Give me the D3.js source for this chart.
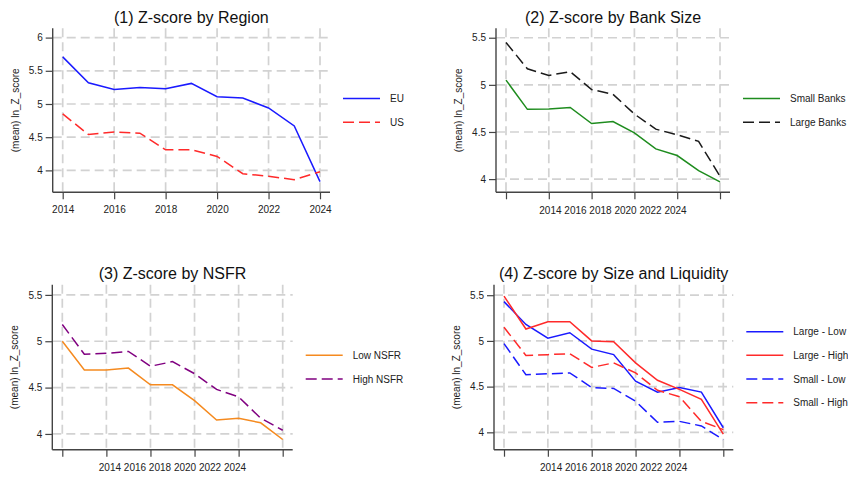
<!DOCTYPE html>
<html>
<head>
<meta charset="utf-8">
<script src="https://cdn.jsdelivr.net/npm/d3@7"></script>
<style>
  body{margin:0;background:#fff;}
  svg{display:block;font-family:"Liberation Sans",Arial,sans-serif;}
</style>
</head>
<body>
<svg id="chart" width="848" height="478"></svg>
<script>
// data
var years        = [2014,2015,2016,2017,2018,2019,2020,2021,2022,2023,2024];
var xticks       = [2014,2016,2018,2020,2022,2024];
var yticks_p1    = [4,4.5,5,5.5,6];
var yticks_rest  = [4,4.5,5,5.5];
var eu           = [5.71,5.32,5.22,5.25,5.23,5.31,5.11,5.09,4.94,4.67,3.83];
var us           = [4.85,4.54,4.58,4.56,4.31,4.31,4.21,3.95,3.91,3.86,3.98];
var small_banks  = [5.05,4.74,4.745,4.76,4.59,4.61,4.49,4.32,4.25,4.09,3.97];
var large_banks  = [5.45,5.17,5.10,5.14,4.95,4.90,4.69,4.53,4.47,4.40,4.03];
var low_nsfr     = [5.00,4.69,4.69,4.71,4.53,4.53,4.36,4.15,4.17,4.12,3.94];
var high_nsfr    = [5.18,4.86,4.87,4.89,4.73,4.78,4.65,4.48,4.40,4.17,4.04];
var large_low    = [5.43,5.18,5.03,5.09,4.91,4.85,4.56,4.44,4.49,4.44,4.05];
var large_high   = [5.49,5.13,5.21,5.21,5.00,4.99,4.76,4.57,4.47,4.36,3.98];
var small_low    = [4.97,4.63,4.64,4.65,4.49,4.48,4.34,4.11,4.12,4.07,3.92];
var small_high   = [5.15,4.84,4.85,4.86,4.71,4.76,4.65,4.46,4.39,4.12,4.03];

var dash = '11,5';
var panels = [
  {title:'(1) Z-score by Region', box:[52.7,330,28.3,192.3], ydom:[3.67,6.14], yticks:yticks_p1, xlab:'ticks',
   series:[{name:'EU',v:eu,c:'#1a1aff',d:null},{name:'US',v:us,c:'#ff2a2a',d:dash}]},
  {title:'(2) Z-score by Bank Size', box:[496,730,28.3,192.3], ydom:[3.86,5.60], yticks:yticks_rest, xlab:'string',
   series:[{name:'Small Banks',v:small_banks,c:'#1e8c1e',d:null},{name:'Large Banks',v:large_banks,c:'#1a1a1a',d:dash}]},
  {title:'(3) Z-score by NSFR', box:[52.3,292.7,284.7,449.7], ydom:[3.83,5.61], yticks:yticks_rest, xlab:'string',
   series:[{name:'Low NSFR',v:low_nsfr,c:'#f58a1f',d:null},{name:'High NSFR',v:high_nsfr,c:'#800080',d:dash}]},
  {title:'(4) Z-score by Size and Liquidity', box:[494,733.3,284.7,449.7], ydom:[3.81,5.615], yticks:yticks_rest, xlab:'string',
   series:[{name:'Large - Low',v:large_low,c:'#1a1aff',d:null},{name:'Large - High',v:large_high,c:'#ff2a2a',d:null},
           {name:'Small - Low',v:small_low,c:'#1a1aff',d:dash},{name:'Small - High',v:small_high,c:'#ff2a2a',d:dash}]}
];

function gen_panel(svg,p){
  var l=p.box[0], r=p.box[1], t=p.box[2], b=p.box[3];
  var x = d3.scaleLinear().domain([years[0],years[years.length-1]]).range([l+10,r-10]);
  var y = d3.scaleLinear().domain(p.ydom).range([b,t]);
  var g = svg.append('g');
  // grid
  g.append('g').selectAll('line').data(p.yticks).enter().append('line')
    .attr('x1',l).attr('x2',r).attr('y1',d=>y(d)).attr('y2',d=>y(d))
    .attr('stroke','#d2d2d2').attr('stroke-width',1.7).attr('stroke-dasharray','9,5');
  g.append('g').selectAll('line').data(xticks).enter().append('line')
    .attr('x1',d=>x(d)).attr('x2',d=>x(d)).attr('y1',t).attr('y2',b)
    .attr('stroke','#d2d2d2').attr('stroke-width',1.7).attr('stroke-dasharray','9,5');
  // axes
  var ya = g.append('g').attr('transform','translate('+l+',0)')
    .call(d3.axisLeft(y).tickValues(p.yticks).tickSize(7).tickPadding(3).tickFormat(d3.format('')));
  var xa = g.append('g').attr('transform','translate(0,'+b+')')
    .call(d3.axisBottom(x).tickValues(xticks).tickSize(7).tickPadding(7)
      .tickFormat(p.xlab=='ticks' ? d3.format('d') : ''));
  [ya,xa].forEach(function(a){
    a.select('.domain').remove();
    a.selectAll('line').attr('stroke','#444').attr('stroke-width',1.2);
    a.selectAll('text').attr('font-size',10).attr('fill','#222').attr('font-family',null);
  });
  g.append('line').attr('x1',l).attr('x2',l).attr('y1',t).attr('y2',b)
    .attr('stroke','#444').attr('stroke-width',1.4);
  g.append('line').attr('x1',l).attr('x2',r).attr('y1',b).attr('y2',b)
    .attr('stroke','#444').attr('stroke-width',1.4);
  if (p.xlab=='string'){
    g.append('text').attr('x',(l+r)/2).attr('y',b+21.5).attr('text-anchor','middle')
      .attr('font-size',10).attr('fill','#222').text(xticks.join(' '));
  }
  // titles
  g.append('text').attr('x',(l+r)/2).attr('y',t-5.5).attr('text-anchor','middle')
    .attr('font-size',16).attr('fill','#111').text(p.title);
  g.append('text').attr('transform','translate('+(l-34)+','+((t+b)/2)+') rotate(-90)')
    .attr('text-anchor','middle').attr('font-size',10).attr('fill','#222').text('(mean) ln_Z_score');
  // lines
  var line = d3.line().x((d,i)=>x(years[i])).y(d=>y(d));
  g.append('g').selectAll('path').data(p.series).enter().append('path')
    .attr('d',s=>line(s.v)).attr('fill','none').attr('stroke',s=>s.c)
    .attr('stroke-width',1.5).attr('stroke-dasharray',s=>s.d);
  // legend
  var n = p.series.length, cy = (t+b)/2, dy = 23.7;
  var leg = g.append('g').selectAll('g').data(p.series).enter().append('g')
    .attr('transform',(s,i)=>'translate('+r+','+(cy+(i-(n-1)/2)*dy)+')');
  leg.append('line').attr('x1',13).attr('x2',50).attr('y1',0).attr('y2',0)
    .attr('stroke',s=>s.c).attr('stroke-width',1.5).attr('stroke-dasharray',s=>s.d);
  leg.append('text').attr('x',60).attr('y',0).attr('dy','0.35em')
    .attr('font-size',10).attr('fill','#222').text(s=>s.name);
}

var svg = d3.select('#chart');
panels.forEach(p => gen_panel(svg,p));
</script>
</body>
</html>
